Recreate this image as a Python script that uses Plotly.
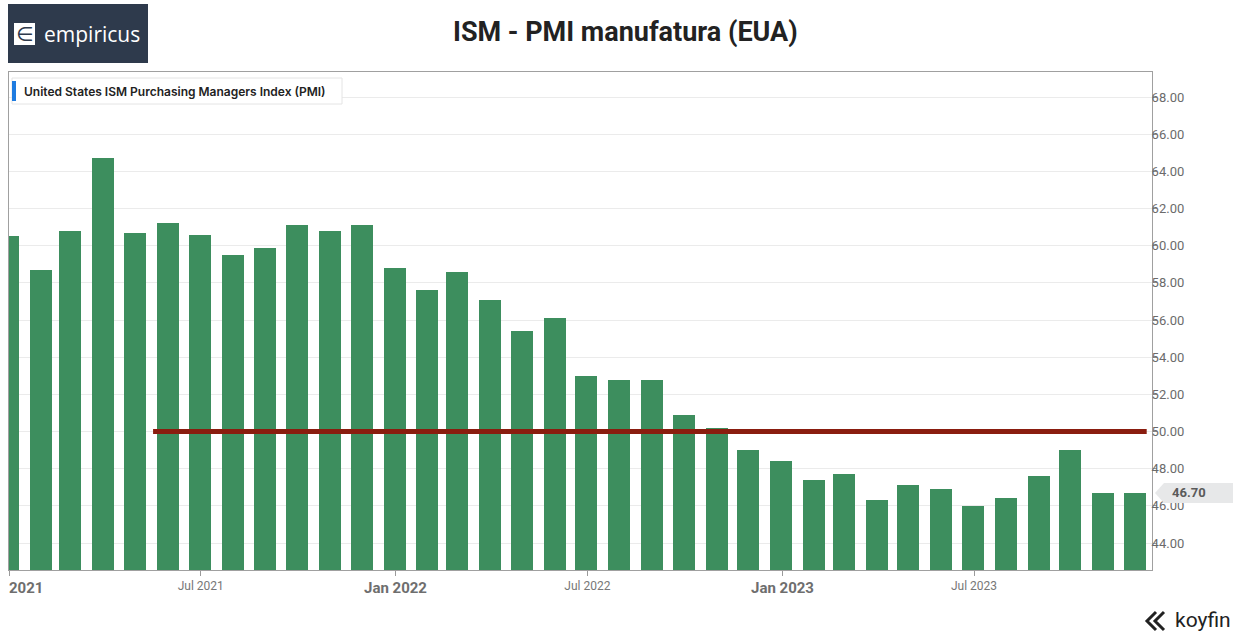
import pandas as pd
import plotly.graph_objects as go

# ISM Manufacturing PMI, monthly readings (Dec 2020 – Nov 2023), plotted at month end
months = pd.date_range("2020-12-31", periods=36, freq="ME")
pmi = [60.5, 58.7, 60.8, 64.7, 60.7, 61.2, 60.6, 59.5, 59.9, 61.1, 60.8, 61.1,
       58.8, 57.6, 58.6, 57.1, 55.4, 56.1, 53.0, 52.8, 52.8, 50.9, 50.2, 49.0,
       48.4, 47.4, 47.7, 46.3, 47.1, 46.9, 46.0, 46.4, 47.6, 49.0, 46.7, 46.7]

# Expansion / contraction threshold line
threshold = 50.0
threshold_span = ["2021-05-17", "2023-12-11"]

tick_dates = ["2021-01-01", "2021-07-01", "2022-01-01", "2022-07-01", "2023-01-01", "2023-07-01"]
tick_labels = ["2021", "Jul 2021", "Jan 2022", "Jul 2022", "Jan 2023", "Jul 2023"]
year_labels = {"2021", "Jan 2022", "Jan 2023"}

last_value = pmi[-1]

W, H = 1233, 632
L, R, T, B = 9, 81, 72, 62
PW, PH = W - L - R, H - T - B


def px(x):
    return (x - L) / PW


def py(y):
    return (H - B - y) / PH


fig = go.Figure()

fig.add_trace(go.Bar(
    x=months, y=pmi,
    width=20.8 * 86400000,
    marker=dict(color="#3d8e5e", line=dict(width=0)),
    showlegend=False,
))

fig.add_trace(go.Scatter(
    x=threshold_span, y=[threshold, threshold],
    mode="lines",
    line=dict(color="#8a1d0f", width=5),
    showlegend=False,
))

fig.update_layout(
    width=W, height=H,
    margin=dict(l=L, r=R, t=T, b=B),
    paper_bgcolor="white",
    plot_bgcolor="white",
    font=dict(family="Roboto", color="#6b6b6b"),
    bargap=0,
    showlegend=False,
)

fig.update_xaxes(
    type="date",
    range=["2021-01-01", "2023-12-16"],
    tickvals=tick_dates,
    ticktext=["" if t in year_labels else t for t in tick_labels],
    tickfont=dict(size=12, color="#777777"),
    ticks="outside", ticklen=5, tickcolor="#9a9a9a",
    showgrid=False,
    showline=True, linecolor="#a0a0a0", linewidth=1, mirror=True,
)

fig.update_yaxes(
    side="right",
    range=[42.55, 69.35],
    tick0=44, dtick=2,
    tickformat=".2f",
    tickfont=dict(size=13, color="#6b6b6b"),
    ticks="outside", ticklen=4, tickcolor="#9a9a9a",
    ticklabelstandoff=-8,
    showgrid=True, gridcolor="#ebebeb", gridwidth=1,
    showline=True, linecolor="#a0a0a0", linewidth=1, mirror=True,
    zeroline=False,
)

shapes = [
    # brand block
    dict(type="rect", xref="paper", yref="paper",
         x0=px(8), x1=px(148), y0=py(63), y1=py(4),
         fillcolor="#2e3a4c", line=dict(width=0), layer="above"),
    dict(type="rect", xref="paper", yref="paper",
         x0=px(14), x1=px(35), y0=py(45), y1=py(23),
         fillcolor="white", line=dict(width=0), layer="above"),
    # series chip
    dict(type="rect", xref="paper", yref="paper",
         x0=px(12), x1=px(342), y0=py(104), y1=py(78),
         fillcolor="white", line=dict(color="#e4e4e4", width=1), layer="above"),
    dict(type="rect", xref="paper", yref="paper",
         x0=px(12), x1=px(16), y0=py(101), y1=py(81),
         fillcolor="#1e7be0", line=dict(width=0), layer="above"),
    # last value tag
    dict(type="path", xref="paper", yref="y",
         xsizemode="pixel", ysizemode="pixel",
         xanchor=1, yanchor=last_value,
         path="M 3,0 L 12,10 L 81,10 L 81,-10 L 12,-10 Z",
         fillcolor="#e7e8e9", line=dict(width=0), layer="above"),
    # koyfin mark: double chevron
    dict(type="path", xref="paper", yref="paper",
         xsizemode="pixel", ysizemode="pixel",
         xanchor=px(1146), yanchor=py(621),
         path="M 10,9 L 1,0 L 10,-9 M 18,9 L 9,0 L 18,-9",
         line=dict(color="#222222", width=3), layer="above"),
]
fig.update_layout(shapes=shapes)

annotations = [
    dict(text="<b>ISM - PMI manufatura (EUA)</b>", xref="paper", yref="paper",
         x=px(625), y=py(32), xanchor="center", yanchor="middle",
         showarrow=False, font=dict(family="Roboto", size=27, color="#222222")),
    dict(text="∈", xref="paper", yref="paper",
         x=px(24.5), y=py(34), xanchor="center", yanchor="middle",
         showarrow=False, font=dict(family="DejaVu Sans", size=20, color="#2e3a4c")),
    dict(text="empiricus", xref="paper", yref="paper",
         x=px(42), y=py(34), xanchor="left", yanchor="middle",
         showarrow=False, font=dict(family="Open Sans", size=21, color="white")),
    dict(text="United States ISM Purchasing Managers Index (PMI)", xref="paper", yref="paper",
         x=px(22), y=py(91), xanchor="left", yanchor="middle",
         showarrow=False, font=dict(family="Inter", size=12, color="#222222", weight=600)),
    dict(text=f"<b>{last_value:.2f}</b>", xref="paper", yref="y",
         x=1, y=last_value, xshift=37, xanchor="center", yanchor="middle",
         showarrow=False, font=dict(family="Roboto", size=13, color="#5a5a5a")),
    dict(text="koyfin", xref="paper", yref="paper",
         x=px(1233), y=py(620), xanchor="right", yanchor="middle",
         showarrow=False, font=dict(family="Roboto", size=21, color="#222222")),
]

# Year-boundary labels are drawn bolder and larger than the mid-year ticks
for d, t in zip(tick_dates, tick_labels):
    if t in year_labels:
        first = t == tick_labels[0]
        annotations.append(dict(
            text=f"<b>{t}</b>", xref="x", yref="paper",
            x=d, y=py(588), xanchor="left" if first else "center", yanchor="middle",
            xshift=-2 if first else 0,
            showarrow=False, font=dict(family="Roboto", size=15, color="#6e6e6e"),
        ))

fig.update_layout(annotations=annotations)

fig.write_html("out.html")
